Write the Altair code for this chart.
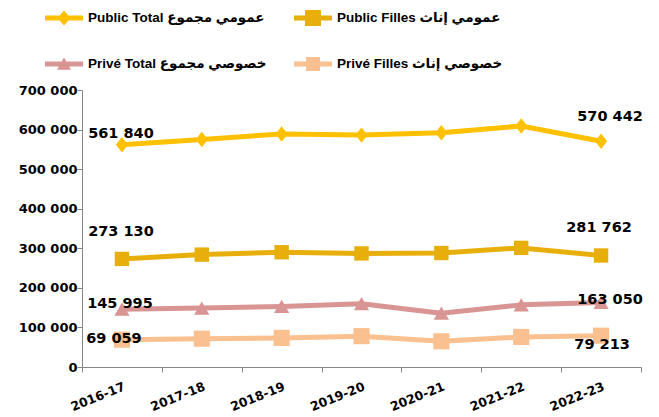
import altair as alt
import pandas as pd

years = ["2016-17", "2017-18", "2018-19", "2019-20", "2020-21", "2021-22", "2022-23"]
public_total = [561840, 575000, 589000, 586000, 592000, 609000, 570442]
public_filles = [273130, 284000, 290000, 287000, 288000, 301000, 281762]
prive_total = [145995, 149000, 153000, 160000, 136000, 157000, 163050]
prive_filles = [69059, 71500, 73500, 78000, 65000, 76000, 79213]

series_names = ["Public Total", "Public Filles", "Privé Total", "Privé Filles"]
series_ar = ["عمومي مجموع", "عمومي إناث", "خصوصي مجموع", "خصوصي إناث"]
y_ticks = [0, 100000, 200000, 300000, 400000, 500000, 600000, 700000]

# styles
colors = ["#FFC000", "#E8AF0C", "#D99594", "#FAC090"]
shapes = ["M0,-1.15L0.9,0L0,1.15L-0.9,0Z", "square", "triangle-up", "square"]
sizes = [180, 260, 200, 200]
stub = "M-1,-0.13H1V0.13H-1Z "
legend_paths = [
    stub + "M0,-0.4L0.34,0L0,0.4L-0.34,0Z",
    stub + "M-0.42,-0.42H0.42V0.42H-0.42Z",
    stub + "M0,-0.34L0.37,0.3H-0.37Z",
    stub + "M-0.37,-0.37H0.37V0.37H-0.37Z",
]
# label offsets (dx, dy) for first / last values
label_offsets = {
    ("Public Total", "first"): (-1, -11),
    ("Public Total", "last"): (9, -24),
    ("Public Filles", "first"): (-1, -27),
    ("Public Filles", "last"): (-2, -28),
    ("Privé Total", "first"): (-2, -5),
    ("Privé Total", "last"): (9, -2),
    ("Privé Filles", "first"): (-8, -1),
    ("Privé Filles", "last"): (1, 9),
}

all_values = [public_total, public_filles, prive_total, prive_filles]
rows = []
for name, vals in zip(series_names, all_values):
    for i, (yr, v) in enumerate(zip(years, vals)):
        pos = "first" if i == 0 else ("last" if i == len(years) - 1 else "mid")
        rows.append({"year": yr, "series": name, "value": v,
                     "label": f"{v:,}".replace(",", " "), "pos": pos})
df = pd.DataFrame(rows)

leg_df = pd.DataFrame({
    "series": series_names,
    "label": [f"{n} {a}" for n, a in zip(series_names, series_ar)],
    "col": [i % 2 for i in range(len(series_names))],
    "row": [i // 2 for i in range(len(series_names))],
})

x_enc = alt.X(
    "year:N", sort=years,
    scale=alt.Scale(type="band", paddingInner=0, paddingOuter=0),
    bandPosition=0.5,
    axis=alt.Axis(title=None, tickBand="extent", labelAngle=-22, labelAlign="right",
                  labelBaseline="top", labelFont="DejaVu Sans", labelFontWeight="bold",
                  labelFontSize=12.5, labelColor="#000000", domainColor="#868686",
                  tickColor="#868686", tickSize=5, labelPadding=8, grid=False),
)
y_enc = alt.Y(
    "value:Q",
    scale=alt.Scale(domain=[0, 700000], nice=False),
    axis=alt.Axis(title=None, values=y_ticks, grid=False,
                  labelExpr="replace(format(datum.value, ','), ',', ' ')",
                  labelFont="DejaVu Sans", labelFontWeight="bold", labelFontSize=13,
                  labelColor="#000000", domainColor="#868686", tickColor="#868686",
                  tickSize=5, labelPadding=0),
)
color_enc = alt.Color("series:N", scale=alt.Scale(domain=series_names, range=colors), legend=None)

base = alt.Chart(df)
lines = base.mark_line(strokeWidth=5, strokeJoin="round").encode(
    x=x_enc, y=y_enc, color=color_enc, detail="series:N",
    order=alt.Order("year:N"))
points = base.mark_point(filled=True, opacity=1, strokeWidth=0).encode(
    x=x_enc, y=y_enc, color=color_enc,
    shape=alt.Shape("series:N", scale=alt.Scale(domain=series_names, range=shapes), legend=None),
    size=alt.Size("series:N", scale=alt.Scale(domain=series_names, range=sizes), legend=None),
)

label_layers = []
for (name, pos), (dx, dy) in label_offsets.items():
    label_layers.append(
        base.transform_filter(
            (alt.datum.series == name) & (alt.datum.pos == pos)
        ).mark_text(dx=dx, dy=dy, align="center", baseline="middle", font="DejaVu Sans",
                    fontWeight="bold", fontSize=14.5, color="#000000").encode(
            x=x_enc, y=y_enc, text="label:N")
    )

leg_base = alt.Chart(leg_df)
leg_x = alt.X("col:Q", scale=alt.Scale(domain=[0, 1], range=[-18, 231]), axis=None)
leg_y = alt.Y("row:Q", scale=alt.Scale(domain=[0, 1], range=[-72, -26]), axis=None)
leg_sym = leg_base.mark_point(filled=True, opacity=1, strokeWidth=0, size=1444).encode(
    x=leg_x, y=leg_y,
    color=alt.Color("series:N", scale=alt.Scale(domain=series_names, range=colors), legend=None),
    shape=alt.Shape("series:N", scale=alt.Scale(domain=series_names, range=legend_paths), legend=None),
)
leg_txt = leg_base.mark_text(align="left", baseline="middle", dx=24,
                             font="Liberation Sans, DejaVu Sans", fontWeight="bold",
                             fontSize=13.5, color="#000000").encode(
    x=leg_x, y=leg_y, text="label:N")

main = alt.layer(lines, points, *label_layers)
legend = alt.layer(leg_sym, leg_txt)

chart = alt.layer(main, legend).resolve_scale(
    x="independent", y="independent", color="independent", shape="independent"
).properties(
    width=559, height=277, padding={"left": 10, "top": 2, "right": 0, "bottom": 0}
).configure_view(stroke=None)

chart.save("out.html", embed_options={"renderer": "svg", "actions": False})
